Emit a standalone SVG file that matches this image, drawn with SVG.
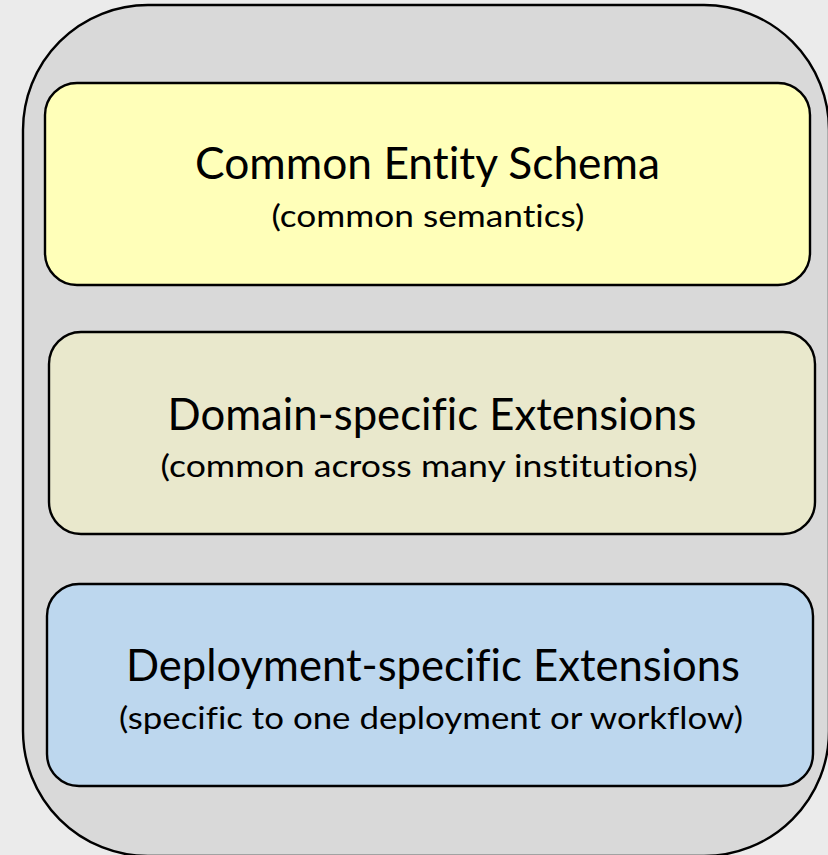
<svg xmlns="http://www.w3.org/2000/svg" width="828" height="855" viewBox="0 0 828 855">
  <style>
    .box { stroke: #000; stroke-width: 2.4; }
    .title { font-family: Lato, "Open Sans", sans-serif; font-size: 45px; fill: #000; text-anchor: middle; font-variant-ligatures: none; }
    .sub { font-family: Lato, "Open Sans", sans-serif; font-size: 30px; fill: #000; text-anchor: middle; font-variant-ligatures: none; }
  </style>
  <rect x="0" y="0" width="828" height="855" fill="#ebebeb"/>
  <g id="container">
    <rect x="23" y="5" width="806" height="851" rx="125" ry="125" fill="#d9d9d9" class="box"/>
  </g>
  <g id="common-entity-schema">
    <rect x="45" y="83" width="765" height="202" rx="32" ry="32" fill="#ffffb9" class="box"/>
    <text class="title" x="427.5" y="179" textLength="465" lengthAdjust="spacingAndGlyphs">Common Entity Schema</text>
    <text class="sub" x="428" y="227" textLength="313" lengthAdjust="spacingAndGlyphs">(common semantics)</text>
  </g>
  <g id="domain-specific-extensions">
    <rect x="49" y="332" width="766" height="202" rx="32" ry="32" fill="#e9e8cc" class="box"/>
    <text class="title" x="432" y="430" textLength="529" lengthAdjust="spacingAndGlyphs">Domain-specific Extensions</text>
    <text class="sub" x="429" y="477" textLength="537" lengthAdjust="spacingAndGlyphs">(common across many institutions)</text>
  </g>
  <g id="deployment-specific-extensions">
    <rect x="47" y="584" width="766" height="202" rx="32" ry="32" fill="#bdd7ee" class="box"/>
    <text class="title" x="433" y="681" textLength="614" lengthAdjust="spacingAndGlyphs">Deployment-specific Extensions</text>
    <text class="sub" x="431" y="729" textLength="624" lengthAdjust="spacingAndGlyphs">(specific to one deployment or workflow)</text>
  </g>
  <g id="connectors"></g>
</svg>
